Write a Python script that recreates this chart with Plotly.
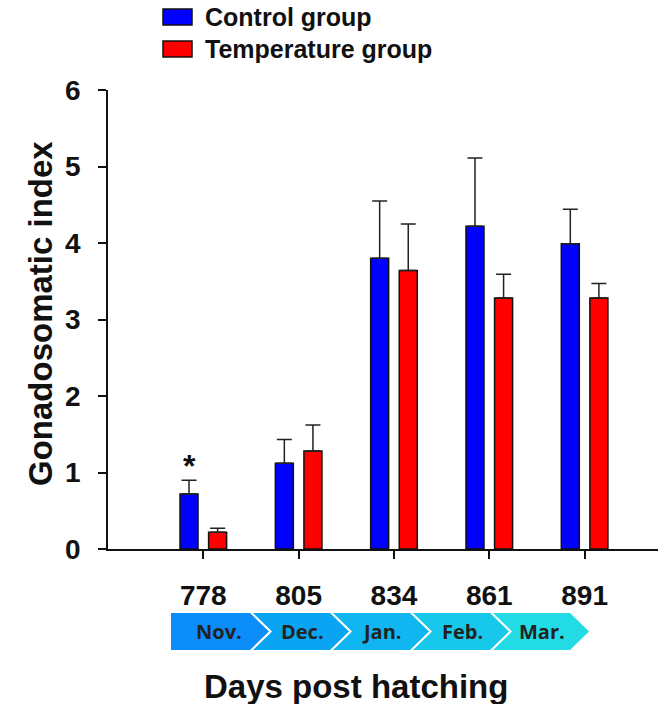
import plotly.graph_objects as go

days = ["778", "805", "834", "861", "891"]
months = ["Nov.", "Dec.", "Jan.", "Feb.", "Mar."]
month_colors = ["#0b8ef9", "#0aa5f2", "#10b6ef", "#17c8ea", "#22dbe5"]
control_mean = [0.72, 1.12, 3.80, 4.22, 3.99]
control_err = [0.18, 0.31, 0.75, 0.89, 0.45]
temp_mean = [0.22, 1.28, 3.64, 3.28, 3.28]
temp_err = [0.05, 0.34, 0.61, 0.31, 0.19]
y_ticks = [0, 1, 2, 3, 4, 5, 6]

W, H = 661, 704
L, R, T, B = 108, 3, 90, 155
PW, PH = W - L - R, H - T - B

FONT = "Liberation Sans, Arial, sans-serif"
xs = list(range(len(days)))

fig = go.Figure()
fig.add_trace(go.Bar(
    x=xs, y=control_mean, name="Control group",
    marker=dict(color="#0000ff", line=dict(color="#111111", width=1.5)),
    error_y=dict(type="data", array=control_err, symmetric=False,
                 arrayminus=[0] * len(days), color="#222222", thickness=1.5, width=7.5),
))
fig.add_trace(go.Bar(
    x=xs, y=temp_mean, name="Temperature group",
    marker=dict(color="#ff0000", line=dict(color="#111111", width=1.5)),
    error_y=dict(type="data", array=temp_err, symmetric=False,
                 arrayminus=[0] * len(days), color="#222222", thickness=1.5, width=7.5),
))

bargap, bargroupgap = 0.40, 0.37
slot = (1 - bargap) / 2

# significance marker
fig.add_annotation(x=xs[0] - slot / 2, y=control_mean[0] + control_err[0], xref="x", yref="y",
                   text="<b>*</b>", showarrow=False, yanchor="bottom", yshift=-6,
                   font=dict(family=FONT, size=32, color="#111111"))

def px2paper(px, py):
    return (px - L) / PW, (H - B - py) / PH

shapes = []
# Custom legend
leg_items = [("Control group", "#0000ff", 17), ("Temperature group", "#ff0000", 49)]
for label, col, cy in leg_items:
    x0, y0 = px2paper(163, cy - 8)
    x1, y1 = px2paper(192, cy + 8)
    shapes.append(dict(type="rect", xref="paper", yref="paper", x0=x0, x1=x1, y0=y1, y1=y0,
                       fillcolor=col, line=dict(color="#111111", width=1.5)))
    tx, ty = px2paper(203, cy)
    fig.add_annotation(x=tx, y=ty, xref="paper", yref="paper", text="<b>%s</b>" % label,
                       showarrow=False, xanchor="left", yanchor="middle",
                       font=dict(family=FONT, size=25, color="#111111"))

# Month chevrons
top, bot, mid = 613, 650, 631.5
depth = 19
for i, (m, col) in enumerate(zip(months, month_colors)):
    start = 171 if i == 0 else 173 + 80 * i
    flat_end = 173 + 80 * (i + 1) - 3
    pts = [(start, top), (flat_end, top), (flat_end + depth, mid), (flat_end, bot), (start, bot)]
    if i > 0:
        pts.append((start + depth, mid))
    ppts = [px2paper(a, b) for a, b in pts]
    path = "M " + " L ".join("%.5f,%.5f" % p for p in ppts) + " Z"
    shapes.append(dict(type="path", xref="paper", yref="paper", path=path,
                       fillcolor=col, line=dict(width=0)))
    tx, ty = px2paper(start + 49 if i > 0 else 219, mid)
    fig.add_annotation(x=tx, y=ty, xref="paper", yref="paper", text="<b>%s</b>" % m,
                       showarrow=False, xanchor="center", yanchor="middle",
                       font=dict(family="Open Sans, sans-serif", size=20, color="#222222"))

# Axis titles
tx, ty = px2paper(356, 686)
fig.add_annotation(x=tx, y=ty, xref="paper", yref="paper", text="<b>Days post hatching</b>",
                   showarrow=False, xanchor="center", yanchor="middle",
                   font=dict(family=FONT, size=33, color="#111111"))
tx, ty = px2paper(40, 314)
fig.add_annotation(x=tx, y=ty, xref="paper", yref="paper", text="<b>Gonadosomatic index</b>",
                   showarrow=False, xanchor="center", yanchor="middle", textangle=-90,
                   font=dict(family=FONT, size=33, color="#111111"))

fig.update_layout(
    width=W, height=H,
    margin=dict(l=L, r=R, t=T, b=B, pad=0),
    paper_bgcolor="white", plot_bgcolor="white",
    barmode="group", bargap=bargap, bargroupgap=bargroupgap,
    showlegend=False,
    shapes=shapes,
    font=dict(family=FONT, color="#111111"),
)
fig.update_xaxes(
    range=[-1, 4.77], tickmode="array", tickvals=xs,
    ticktext=["<b>%s</b>" % d for d in days],
    ticks="outside", ticklen=8, tickwidth=1.5, tickcolor="#111111",
    showline=True, linecolor="#111111", linewidth=1.5,
    showgrid=False, zeroline=False,
    tickfont=dict(family=FONT, size=28, color="#111111"),
    ticklabelstandoff=13,
)
fig.update_yaxes(
    range=[0, 6], tickmode="array", tickvals=y_ticks,
    ticktext=["<b>%d</b>" % v for v in y_ticks],
    ticks="outside", ticklen=8, tickwidth=1.5, tickcolor="#111111",
    showline=True, linecolor="#111111", linewidth=1.5,
    showgrid=False, zeroline=False,
    tickfont=dict(family=FONT, size=28, color="#111111"),
    ticklabelstandoff=12,
)

fig.write_html("out.html")
